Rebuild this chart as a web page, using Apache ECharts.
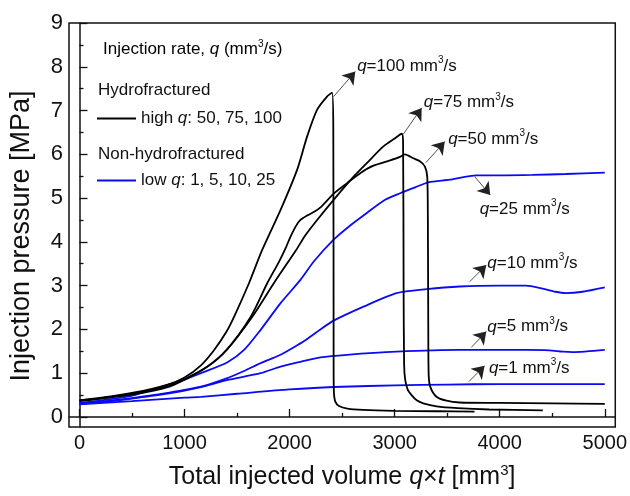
<!DOCTYPE html>
<html>
<head>
<meta charset="utf-8">
<script src="https://cdn.jsdelivr.net/npm/echarts@6/dist/echarts.min.js"></script>
<style>html,body{margin:0;padding:0;background:#fff}#c{width:630px;height:496px}</style>
</head>
<body>
<div id="c"></div>
<script>
// ---- data ----
const xTicks = [0, 1000, 2000, 3000, 4000, 5000];
const xMinorTicks = [500, 1500, 2500, 3500, 4500];
const yTicks = [0, 1, 2, 3, 4, 5, 6, 7, 8, 9];
const yMinorTicks = [0.5, 1.5, 2.5, 3.5, 4.5, 5.5, 6.5, 7.5, 8.5];

// Hydrofractured (high q)
const q100X = [0,208,524,840,1000,1156,1282,1400,1472,1614,1740,1914,2072,2167,2262,2356,2404,2416,2419,2422,2435,2470,2550,2700,3000,3400,3760];
const q100Y = [0.38,0.44,0.56,0.74,0.90,1.18,1.53,1.95,2.29,3.06,3.82,4.73,5.65,6.41,7.02,7.32,7.41,6.5,1.0,0.55,0.35,0.25,0.19,0.16,0.14,0.13,0.12];
const q75X = [0,208,524,840,1000,1219,1400,1645,1851,2064,2150,2262,2419,2609,2735,2893,3000,3067,3080,3085,3090,3100,3125,3161,3210,3272,3400,3600,3900,4410];
const q75Y = [0.36,0.42,0.52,0.68,0.85,1.15,1.53,2.29,3.06,3.82,4.15,4.50,4.96,5.49,5.80,6.18,6.36,6.47,6.30,3.0,1.2,0.85,0.62,0.50,0.38,0.31,0.24,0.20,0.17,0.15];
const q50X = [0,208,524,840,1000,1219,1400,1630,1788,1900,1961,2009,2060,2103,2166,2230,2300,2419,2546,2672,2798,2956,3051,3098,3177,3240,3288,3310,3316,3320,3324,3340,3398,3493,3619,4000,4500,5000];
const q50Y = [0.38,0.43,0.54,0.70,0.86,1.15,1.53,2.29,3.06,3.55,3.85,4.12,4.36,4.50,4.60,4.68,4.80,5.10,5.34,5.57,5.74,5.86,5.94,6.00,5.91,5.84,5.72,5.49,4.5,2.0,0.95,0.68,0.46,0.37,0.33,0.32,0.31,0.30];

// Non-hydrofractured (low q)
const q25X = [0,208,524,840,1000,1156,1409,1566,1724,1914,2103,2230,2419,2580,2735,2909,3051,3200,3320,3525,3777,3999,4311,4630,5000];
const q25Y = [0.32,0.38,0.50,0.73,0.85,1.00,1.25,1.53,1.99,2.60,3.13,3.55,4.05,4.38,4.66,4.96,5.11,5.25,5.36,5.42,5.52,5.52,5.53,5.55,5.58];
const q10X = [0,250,500,840,1156,1400,1566,1724,1914,2103,2167,2293,2419,2704,3019,3304,3619,4000,4251,4409,4530,4630,4788,5000];
const q10Y = [0.31,0.36,0.43,0.55,0.69,0.88,1.05,1.23,1.42,1.68,1.78,2.00,2.20,2.52,2.83,2.92,2.98,3.00,3.00,2.93,2.86,2.83,2.86,2.96];
const q5X = [0,250,500,840,1156,1400,1724,1914,2103,2293,2546,3019,3619,4251,4472,4600,4693,5000];
const q5Y = [0.30,0.35,0.42,0.53,0.68,0.84,1.00,1.15,1.26,1.36,1.42,1.49,1.53,1.53,1.52,1.49,1.48,1.53];
const q1X = [0,500,1000,1156,1500,2000,2500,3000,3500,4000,5000];
const q1Y = [0.29,0.36,0.44,0.46,0.53,0.63,0.69,0.72,0.74,0.75,0.75];

// annotations (data coords)
const annotRate = ['100','75','50','25','10','5','1'];
const annotFrom = [[2419,7.32],[3082,6.46],[3297,5.81],[3762,5.49],[3714,3.09],[3730,1.59],[3708,0.81]];
const annotTo   = [[2625,7.89],[3257,7.06],[3477,6.29],[3910,5.07],[3872,3.47],[3872,1.95],[3856,1.17]];
const annotText = [[2643,8.02],[3278,7.18],[3509,6.35],[3809,4.75],[3882,3.52],[3882,2.06],[3897,1.12]];

// ---- chart ----
const FF = "'Liberation Sans', Arial, sans-serif";
const BLACK = '#000000', BLUE = '#0a0af5';
const zip = (xs, ys) => xs.map((x, i) => [x, ys[i]]);
const richBase = (fs) => ({
  n: {fontFamily: FF, fontSize: fs, color: '#111', lineHeight: fs + 4},
  i: {fontFamily: FF, fontSize: fs, fontStyle: 'italic', color: '#111', lineHeight: fs + 4},
  s: {fontFamily: FF, fontSize: Math.round(fs * 0.6), color: '#111', verticalAlign: 'top', lineHeight: fs + 4}
});

function lineSeries(name, xs, ys, color) {
  return {
    type: 'line', name: name, data: zip(xs, ys), symbol: 'none', smooth: 0.25,
    lineStyle: {color: color, width: 1.8}, itemStyle: {color: color},
    xAxisIndex: 0, yAxisIndex: 0, z: 3
  };
}

const chart = echarts.init(document.getElementById('c'), null, {renderer: 'canvas'});
const option = {
  animation: false,
  backgroundColor: '#fff',
  grid: {left: 68, right: 14, top: 23, bottom: 69, show: true, borderColor: '#111', borderWidth: 1.5, backgroundColor: 'transparent'},
  legend: {
    data: ['high', 'low'], orient: 'vertical', left: 92, top: 105, itemWidth: 39, itemHeight: 14, itemGap: 45,
    selectedMode: false, icon: 'path://M0,6 L39,6 L39,8 L0,8 Z',
    formatter: n => n === 'high' ? '{n|high }{i|q}{n|: 50, 75, 100}' : '{n|low }{i|q}{n|: 1, 5, 10, 25}',
    textStyle: {fontFamily: FF, fontSize: 17, color: '#111', rich: richBase(17)}
  },
  xAxis: [{
    type: 'value', min: -100, max: 5100,
    name: '{n|Total injected volume }{i|q}{n|×}{i|t}{n| [mm}{s|3}{n|]}', nameLocation: 'middle', nameGap: 36,
    nameTextStyle: {rich: richBase(25)},
    axisLine: {show: true, lineStyle: {color: '#111', width: 1.5}},
    axisTick: {show: true, inside: true, length: 8, customValues: xTicks, lineStyle: {color: '#111', width: 1.3}},
    axisLabel: {customValues: xTicks, formatter: v => String(v), fontFamily: FF, fontSize: 20, color: '#111', margin: 6},
    splitLine: {show: false}
  }, {
    type: 'value', min: -100, max: 5100, position: 'bottom',
    axisLine: {show: false},
    axisTick: {show: true, inside: true, length: 4, customValues: xMinorTicks, lineStyle: {color: '#111', width: 1.3}},
    axisLabel: {show: false}, splitLine: {show: false}
  }],
  yAxis: [{
    type: 'value', min: -0.23, max: 9,
    name: '{n|Injection pressure [MPa]}', nameLocation: 'middle', nameGap: 32,
    nameTextStyle: {rich: richBase(27), padding: [0, 22, 0, 0]},
    axisLine: {show: true, lineStyle: {color: '#111', width: 1.5}},
    axisTick: {show: true, inside: true, length: 8, customValues: yTicks, lineStyle: {color: '#111', width: 1.3}},
    axisLabel: {customValues: yTicks, formatter: v => String(v), fontFamily: FF, fontSize: 22, color: '#111', margin: 6},
    splitLine: {show: false}
  }, {
    type: 'value', min: -0.23, max: 9, position: 'left',
    axisLine: {show: false},
    axisTick: {show: true, inside: true, length: 4, customValues: yMinorTicks, lineStyle: {color: '#111', width: 1.3}},
    axisLabel: {show: false}, splitLine: {show: false}
  }],
  graphic: [
    {type: 'text', left: 103, top: 39, style: {text: '{n|Injection rate, }{i|q}{n| (mm}{s|3}{n|/s)}', rich: richBase(17)}},
    {type: 'text', left: 98, top: 82, style: {text: 'Hydrofractured', font: '17px ' + FF, fill: '#111'}},
    {type: 'text', left: 98, top: 146, style: {text: 'Non-hydrofractured', font: '17px ' + FF, fill: '#111'}}
  ],
  series: [
    lineSeries('low', q25X, q25Y, BLUE),
    lineSeries('low', q10X, q10Y, BLUE),
    lineSeries('low', q5X, q5Y, BLUE),
    lineSeries('low', q1X, q1Y, BLUE),
    lineSeries('high', q100X, q100Y, BLACK),
    lineSeries('high', q75X, q75Y, BLACK),
    lineSeries('high', q50X, q50Y, BLACK),
    {
      type: 'lines', coordinateSystem: 'cartesian2d', xAxisIndex: 0, yAxisIndex: 0, z: 4,
      symbol: ['none', 'arrow'], symbolSize: [0, 12],
      lineStyle: {color: '#222', width: 0.8, opacity: 1},
      data: annotFrom.map((f, i) => ({coords: [f, annotTo[i]]}))
    },
    {
      type: 'scatter', xAxisIndex: 0, yAxisIndex: 0, symbolSize: 0, z: 5,
      itemStyle: {opacity: 1},
      data: annotText.map((p, i) => ({value: p, name: annotRate[i]})),
      label: {
        show: true, position: 'right', distance: 0, color: '#111', opacity: 1,
        formatter: p => '{i|q}{n|=' + p.name + ' mm}{s|3}{n|/s}',
        rich: richBase(17)
      },
      silent: true
    }
  ]
};
chart.setOption(option);
</script>
</body>
</html>
